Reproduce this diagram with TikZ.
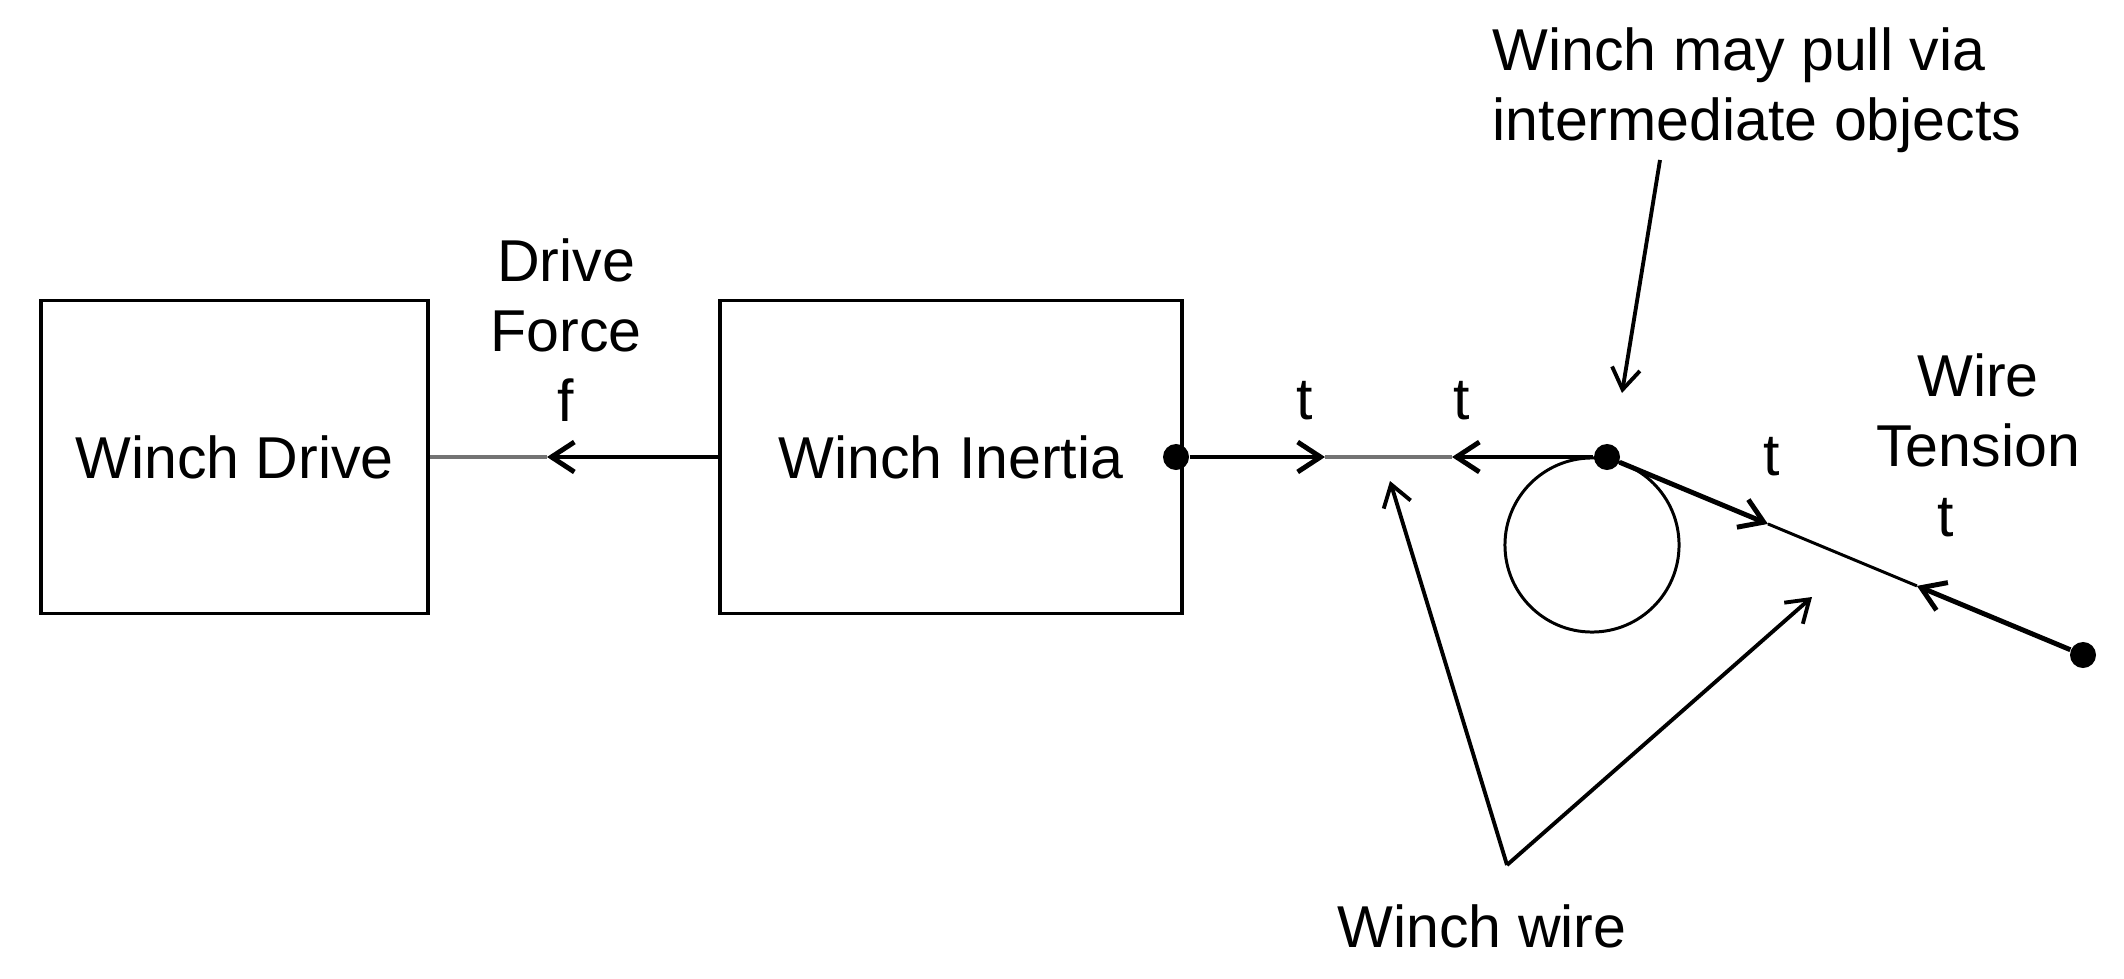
\documentclass[tikz,border=0pt]{standalone}
\usepackage{fontspec}
\setmainfont{Liberation Sans}
\usetikzlibrary{positioning, arrows.meta, calc}
\newcommand{\wfont}{\fontsize{16.8}{19.9}\selectfont}
\tikzset{
  block/.style={draw, line width=1pt, minimum height=3.13cm, inner sep=0pt, font=\wfont},
  lbl/.style={inner sep=0pt, font=\wfont},
  jdot/.style={circle, fill, inner sep=0pt, minimum size=2.6mm},
  arr/.style={-{Straight Barb[length=6.5pt, width=8.5pt]}},
  heavy/.style={line width=1.4pt},
  light/.style={line width=1.1pt, black!55},
  ptr/.style={line width=1.1pt, -{Straight Barb[length=6pt, width=8pt]}}
}

\begin{document}
\begin{tikzpicture}[x=0.01cm, y=-0.01cm]
\useasboundingbox (0,0) rectangle (2124,979);
\node[block, minimum width=3.87cm] (drive) at (234.5,457) {Winch Drive};
\node[block, minimum width=4.62cm, right=2.88cm of drive] (inertia) {Winch Inertia};
\node[lbl, align=center] (forcetxt) at (566,330) {Drive\\Force\\f};
\coordinate (fmid) at (547,457);
\draw[heavy, arr] (inertia.west) -- (fmid);
\draw[light] (fmid) -- (drive.east);
% winch wire
\node[jdot] (wdot) at (1176,457) {};
\node[jdot] (pdot) at (1607,457) {};
\node[jdot] (edot) at (2083,655) {};
\node[draw, circle, line width=0.85pt, minimum size=1.74cm, inner sep=0pt] (pulley) at (1592,545) {};
\coordinate (t1tip) at (1325,457);
\coordinate (t2tip) at (1452,457);
\coordinate (t3tip) at ($(pdot)!0.338!(edot)$);
\coordinate (t4tip) at ($(pdot)!0.651!(edot)$);
\draw[heavy, arr] (wdot) -- (t1tip);
\draw[light] (t1tip) -- (t2tip);
\draw[heavy, arr] (pdot) -- (t2tip);
\draw[heavy, arr] (pdot) -- (t3tip);
\draw[line width=0.85pt] (t3tip) -- (t4tip);
\draw[heavy, arr] (edot) -- (t4tip);
\node[lbl, anchor=base] (tA) at (1305,419) {t};
\node[lbl, anchor=base] (tB) at (1462,419) {t};
\node[lbl, anchor=base] (tC) at (1772,475) {t};
\node[lbl, align=center] (tenstxt) at (1978,445) {Wire\\Tension\\t\hspace*{1.1em}};
% notes
\node[lbl, align=left, anchor=north west] (pulltxt) at (1492,27) {Winch may pull via\\intermediate objects};
\coordinate (ptop) at (1660,160);
\coordinate (ptip) at (1622,393);
\draw[ptr] (ptop) -- (ptip);
\node[lbl, anchor=base] (wiretxt) at (1482,947) {Winch wire};
\coordinate (wvert) at (1507,865);
\coordinate (wtipL) at (1390,481);
\coordinate (wtipR) at (1812,597);
\draw[ptr] (wvert) -- (wtipL);
\draw[ptr] (wvert) -- (wtipR);
\end{tikzpicture}
\end{document}
